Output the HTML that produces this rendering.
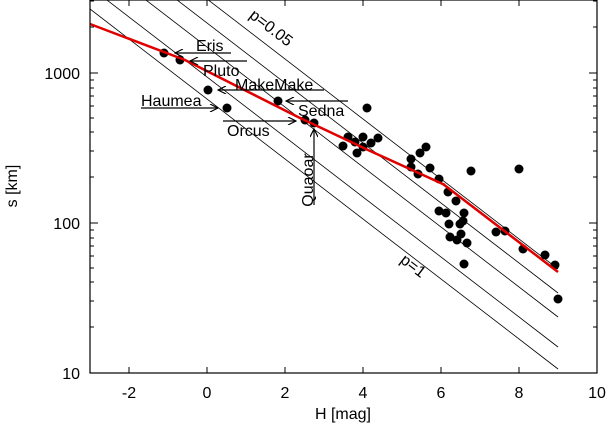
<!DOCTYPE html>
<html><head><meta charset="utf-8"><style>
html,body{margin:0;padding:0;background:#fff}
svg{display:block;font-family:"Liberation Sans",sans-serif}
</style></head><body>
<svg width="609" height="427" viewBox="0 0 609 427" xmlns="http://www.w3.org/2000/svg">
<defs>
<clipPath id="c"><rect x="90" y="0" width="507" height="373"/></clipPath>
<marker id="ah" viewBox="0 0 10 10" refX="10" refY="5" markerWidth="10" markerHeight="8" orient="auto" markerUnits="userSpaceOnUse"><path d="M0,0 L10,5 L0,10" fill="none" stroke="#000" stroke-width="1.5"/></marker>
</defs>
<g clip-path="url(#c)" stroke="#000" stroke-width="0.8" fill="none">
<line x1="90" y1="-91" x2="558" y2="269"/>
<line x1="90" y1="-67" x2="558" y2="293"/>
<line x1="90" y1="-43" x2="558" y2="317"/>
<line x1="90" y1="-13" x2="558" y2="347"/>
<line x1="90" y1="9" x2="558" y2="369"/>
</g>
<g fill="#000">
<circle cx="164" cy="53" r="4.5"/><circle cx="180" cy="60" r="4.5"/><circle cx="208" cy="90" r="4.5"/><circle cx="227" cy="108" r="4.5"/><circle cx="278" cy="101" r="4.5"/><circle cx="305" cy="120" r="4.5"/><circle cx="314" cy="123" r="4.5"/><circle cx="367" cy="108" r="4.5"/>
<circle cx="343" cy="146" r="4.5"/><circle cx="348" cy="137" r="4.5"/><circle cx="355" cy="142" r="4.5"/><circle cx="363" cy="137" r="4.5"/><circle cx="357" cy="153" r="4.5"/><circle cx="363" cy="147" r="4.5"/><circle cx="371" cy="143" r="4.5"/><circle cx="378" cy="138" r="4.5"/>
<circle cx="411" cy="159" r="4.5"/><circle cx="411" cy="167" r="4.5"/><circle cx="420" cy="153" r="4.5"/><circle cx="426" cy="147" r="4.5"/><circle cx="418" cy="174" r="4.5"/><circle cx="430" cy="168" r="4.5"/><circle cx="439" cy="179" r="4.5"/><circle cx="448" cy="192" r="4.5"/><circle cx="456" cy="201" r="4.5"/>
<circle cx="439" cy="211" r="4.5"/><circle cx="446" cy="213" r="4.5"/><circle cx="449" cy="224" r="4.5"/><circle cx="450" cy="237" r="4.5"/><circle cx="457" cy="240" r="4.5"/><circle cx="461" cy="234" r="4.5"/><circle cx="460" cy="224" r="4.5"/><circle cx="463" cy="221" r="4.5"/><circle cx="464" cy="213" r="4.5"/><circle cx="467" cy="243" r="4.5"/><circle cx="464" cy="264" r="4.5"/><circle cx="471" cy="171" r="4.5"/>
<circle cx="496" cy="232" r="4.5"/><circle cx="505" cy="231" r="4.5"/><circle cx="519" cy="169" r="4.5"/><circle cx="523" cy="249" r="4.5"/><circle cx="545" cy="255" r="4.5"/><circle cx="555" cy="265" r="4.5"/><circle cx="558" cy="299" r="4.5"/>
</g>
<polyline points="90,24 185,60 298,117 368,150 445,185" fill="none" stroke="#e00000" stroke-width="2.5"/>
<polyline points="443,184 558,272" fill="none" stroke="#e00000" stroke-width="2.5"/>
<g stroke="#000" stroke-width="1.2" fill="none">
<line x1="231" y1="53" x2="175" y2="53" marker-end="url(#ah)"/>
<line x1="247" y1="61" x2="190" y2="61" marker-end="url(#ah)"/>
<line x1="324" y1="90" x2="218" y2="90" marker-end="url(#ah)"/>
<line x1="348" y1="101" x2="286" y2="101" marker-end="url(#ah)"/>
<line x1="141" y1="108" x2="218" y2="108" marker-end="url(#ah)"/>
<line x1="223" y1="121" x2="296" y2="121" marker-end="url(#ah)"/>
<line x1="314" y1="205" x2="314" y2="129" marker-end="url(#ah)"/>
</g>
<g font-size="16" fill="#000">
<text x="196" y="51">Eris</text>
<text x="203" y="76">Pluto</text>
<text x="235" y="90">MakeMake</text>
<text x="298" y="116">Sedna</text>
<text x="141" y="106">Haumea</text>
<text x="227" y="136">Orcus</text>
<text transform="translate(313,180) rotate(-90)" text-anchor="middle">Quaoar</text>
<text transform="translate(268,32) rotate(37.5)" text-anchor="middle">p=0.05</text>
<text transform="translate(410,270) rotate(37.5)" text-anchor="middle">p=1</text>
</g>
<rect x="90" y="0" width="507" height="373" fill="none" stroke="#000" stroke-width="1.2"/>
<g stroke="#000" stroke-width="1">
<path d="M129,373v-6M207,373v-6M285,373v-6M363,373v-6M441,373v-6M519,373v-6M129,0v6M207,0v6M285,0v6M363,0v6M441,0v6M519,0v6"/>
<path d="M90,73h8M90,223h8M597,73h-8M597,223h-8"/>
<path d="M90,327h4M90,301h4M90,282h4M90,268h4M90,256h4M90,246h4M90,238h4M90,230h4M90,177h4M90,151h4M90,132h4M90,118h4M90,106h4M90,96h4M90,88h4M90,80h4M90,27h4M90,1h4"/>
<path d="M597,327h-4M597,301h-4M597,282h-4M597,268h-4M597,256h-4M597,246h-4M597,238h-4M597,230h-4M597,177h-4M597,151h-4M597,132h-4M597,118h-4M597,106h-4M597,96h-4M597,88h-4M597,80h-4M597,27h-4M597,1h-4"/>
</g>
<g font-size="16" fill="#000">
<text x="80" y="79" text-anchor="end">1000</text>
<text x="80" y="229" text-anchor="end">100</text>
<text x="80" y="379" text-anchor="end">10</text>
<text x="129" y="398" text-anchor="middle">-2</text>
<text x="207" y="398" text-anchor="middle">0</text>
<text x="285" y="398" text-anchor="middle">2</text>
<text x="363" y="398" text-anchor="middle">4</text>
<text x="441" y="398" text-anchor="middle">6</text>
<text x="519" y="398" text-anchor="middle">8</text>
<text x="597" y="398" text-anchor="middle">10</text>
<text x="343" y="419" text-anchor="middle">H [mag]</text>
<text transform="translate(17,186) rotate(-90)" text-anchor="middle">s [km]</text>
</g>
</svg>
</body></html>
